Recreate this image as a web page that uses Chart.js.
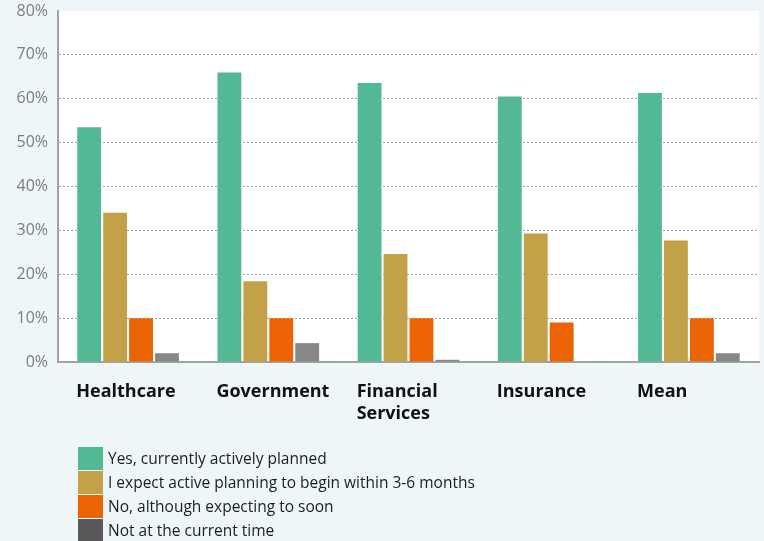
<!DOCTYPE html>
<html>
<head>
<meta charset="utf-8">
<script src="https://cdn.jsdelivr.net/npm/chart.js@4/dist/chart.umd.min.js"></script>
<style>
  html, body { margin: 0; padding: 0; background: #eef6f8; }
  #wrap { position: relative; width: 764px; height: 541px; overflow: hidden; }
  #chart { position: absolute; left: 0; top: 0; }
  #legend { position: absolute; left: 78px; top: 446px; font-family: "Open Sans", sans-serif; font-size: 15.5px; color: #1e1e1e; }
  .row { display: flex; align-items: center; height: 24px; }
  .box { width: 25px; height: 23px; margin-right: 5px; }
</style>
</head>
<body>
<div id="wrap">
  <canvas id="chart" width="764" height="541"></canvas>
  <div id="legend"></div>
</div>
<script>
// Survey results by sector (percent of respondents)
const categories = ['Healthcare', 'Government', ['Financial', 'Services'], 'Insurance', 'Mean'];
const seriesNames = [
  'Yes, currently actively planned',
  'I expect active planning to begin within 3-6 months',
  'No, although expecting to soon',
  'Not at the current time'
];
const yesPlanned   = [53.5, 66.0, 63.6, 60.5, 61.3];
const expectSoon   = [34.0, 18.4, 24.6, 29.3, 27.7];
const noButSoon    = [10.0, 10.0, 10.0, 9.0, 10.0];
const notNow       = [2.0, 4.3, 0.5, 0.0, 2.0];
const yTickValues  = [0, 10, 20, 30, 40, 50, 60, 70, 80];

const barColors    = ['#52b994', '#c3a148', '#ec6304', '#878787'];
const legendColors = ['#52b994', '#c3a148', '#ec6304', '#595959'];
const seriesValues = [yesPlanned, expectSoon, noButSoon, notNow];

// White plotting panel behind the bars
const panelBg = {
  id: 'panelBg',
  beforeDraw(chart) {
    const { ctx, chartArea: a } = chart;
    ctx.save();
    ctx.fillStyle = '#ffffff';
    ctx.fillRect(a.left, a.top, a.right - a.left, a.bottom - a.top);
    ctx.restore();
  }
};

// Bold category names, left-aligned under each bar group
const categoryLabels = {
  id: 'categoryLabels',
  afterDraw(chart) {
    const { ctx, chartArea: a } = chart;
    const xs = chart.scales.x;
    ctx.save();
    ctx.font = 'bold 18px "Open Sans", sans-serif';
    ctx.fillStyle = '#111111';
    ctx.textAlign = 'left';
    ctx.textBaseline = 'top';
    categories.forEach((c, i) => {
      const lines = Array.isArray(c) ? c : [c];
      const x = xs.getPixelForValue(i) - xs.width / categories.length * 0.37;
      lines.forEach((ln, j) => ctx.fillText(ln, x, a.bottom + 21 + j * 22));
    });
    ctx.restore();
  }
};

new Chart(document.getElementById('chart'), {
  type: 'bar',
  data: {
    labels: categories,
    datasets: seriesNames.map((name, i) => ({
      label: name,
      data: seriesValues[i],
      backgroundColor: barColors[i],
      borderWidth: 0,
      categoryPercentage: 0.74,
      barPercentage: 0.92
    }))
  },
  options: {
    responsive: false,
    animation: false,
    layout: { padding: { top: 11, right: 5, bottom: 171, left: 0 } },
    plugins: { legend: { display: false }, tooltip: { enabled: false } },
    scales: {
      x: {
        grid: { display: false },
        ticks: { display: false },
        border: { display: true, color: '#a3a3a3', width: 2 }
      },
      y: {
        min: 0,
        max: 80,
        afterBuildTicks: s => { s.ticks = yTickValues.map(v => ({ value: v })); },
        afterFit: s => { s.width = 58; s.paddingTop = 0; s.paddingBottom = 0; },
        ticks: {
          padding: 10,
          color: '#7d7d7d',
          font: { family: '"Open Sans", sans-serif', size: 16 },
          callback: v => v + '%'
        },
        grid: {
          drawTicks: false,
          color: ctx => (ctx.tick && (ctx.tick.value === 0 || ctx.tick.value === 80)) ? 'rgba(0,0,0,0)' : '#a0a0a0',
          lineWidth: 1
        },
        border: { display: true, color: '#a3a3a3', width: 2, dash: [2, 2] }
      }
    }
  },
  plugins: [panelBg, categoryLabels]
});

// Legend built from the series names and colours
const legend = document.getElementById('legend');
seriesNames.forEach((name, i) => {
  const row = document.createElement('div');
  row.className = 'row';
  const box = document.createElement('div');
  box.className = 'box';
  box.style.background = legendColors[i];
  const txt = document.createElement('span');
  txt.textContent = name;
  row.appendChild(box);
  row.appendChild(txt);
  legend.appendChild(row);
});
</script>
</body>
</html>
